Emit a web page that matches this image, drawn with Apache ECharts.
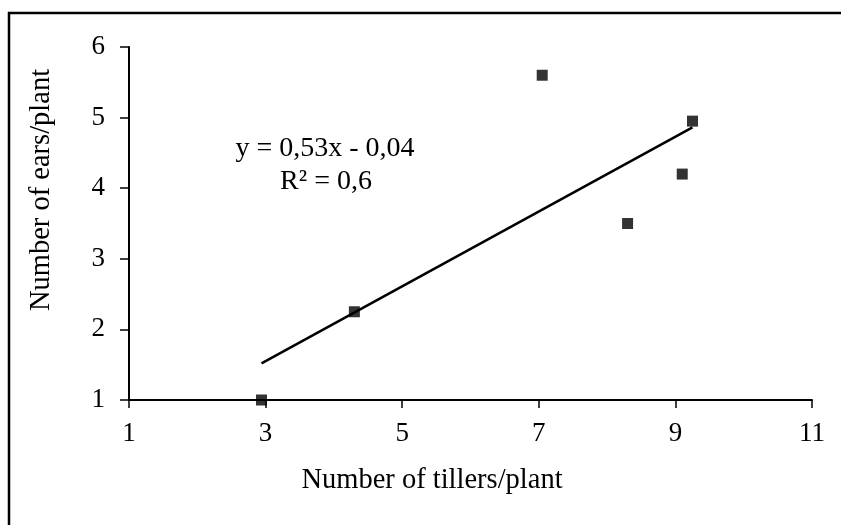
<!DOCTYPE html>
<html>
<head>
<meta charset="utf-8">
<style>html,body{margin:0;padding:0;background:#fff}#c{width:841px;height:525px}</style>
<script src="https://cdn.jsdelivr.net/npm/echarts@6/dist/echarts.min.js"></script>
</head>
<body>
<div id="c"></div>
<script>
const tillers = [2.94, 4.3, 7.05, 8.3, 9.1, 9.25];
const ears = [1.0, 2.25, 5.6, 3.5, 4.2, 4.95];
const slope = 0.53;
const intercept = -0.04;
const eqText = 'y = 0,53x - 0,04';
const r2Text = 'R² = 0,6';
const xTitle = 'Number of tillers/plant';
const yTitle = 'Number of ears/plant';

const xMin = Math.min(...tillers), xMax = Math.max(...tillers);
const trend = [[xMin, slope * xMin + intercept], [xMax, slope * xMax + intercept]];
const points = tillers.map((x, i) => [x, ears[i]]);
const font = '"Liberation Serif", "Times New Roman", serif';

const chart = echarts.init(document.getElementById('c'));
chart.setOption({
  animation: false,
  backgroundColor: '#fff',
  grid: { left: 129, right: 29, top: 47, bottom: 125 },
  xAxis: {
    type: 'value', min: 1, max: 11, interval: 2,
    axisLine: { show: true, onZero: false, lineStyle: { color: '#000', width: 2 } },
    axisTick: { show: true, length: 8, lineStyle: { color: '#000', width: 1.5 } },
    axisLabel: { fontFamily: font, fontSize: 27, color: '#000', margin: 20 },
    splitLine: { show: false }
  },
  yAxis: {
    type: 'value', min: 1, max: 6, interval: 1,
    axisLine: { show: true, onZero: false, lineStyle: { color: '#000', width: 2 } },
    axisTick: { show: true, length: 9, lineStyle: { color: '#000', width: 1.5 } },
    axisLabel: { fontFamily: font, fontSize: 27, color: '#000', margin: 24 },
    splitLine: { show: false }
  },
  graphic: [
    { type: 'rect', shape: { x: 9, y: 13, width: 1000, height: 1000 },
      style: { fill: 'none', stroke: '#000', lineWidth: 2.5 }, silent: true },
    { type: 'text', x: 325, y: 149, style: { text: eqText, font: '28px ' + font, fill: '#000', textAlign: 'center', textVerticalAlign: 'middle' } },
    { type: 'text', x: 326, y: 182, style: { text: r2Text, font: '28px ' + font, fill: '#000', textAlign: 'center', textVerticalAlign: 'middle' } },
    { type: 'text', x: 432, y: 481, style: { text: xTitle, font: '28.5px ' + font, fill: '#000', textAlign: 'center', textVerticalAlign: 'middle' } },
    { type: 'text', x: 42, y: 190, rotation: Math.PI / 2, style: { text: yTitle, font: '28.5px ' + font, fill: '#000', textAlign: 'center', textVerticalAlign: 'middle' } }
  ],
  series: [
    { type: 'line', data: trend, symbol: 'none', lineStyle: { color: '#000', width: 2.5 }, z: 2 },
    { type: 'scatter', data: points, symbol: 'rect', symbolSize: 11, itemStyle: { color: '#000' }, z: 3 }
  ]
});
</script>
</body>
</html>
